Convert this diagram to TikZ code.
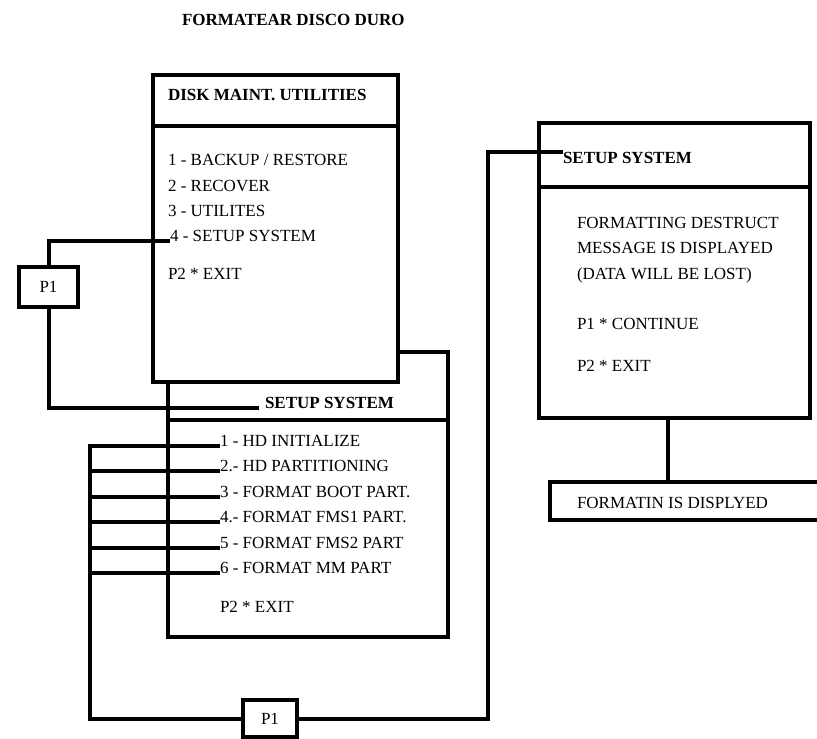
\documentclass[tikz,border=0pt]{standalone}
\usepackage{fontspec}
\setmainfont{Liberation Serif}
\begin{document}
\begin{tikzpicture}[x=1pt,y=-1pt,
  box/.style={draw, line width=4pt, inner sep=0pt, outer sep=0pt, fill=white},
  txt/.style={inner sep=0pt, outer sep=0pt, anchor=base west, font=\fontsize{17}{20}\selectfont},
  hdr/.style={txt, font=\fontsize{17}{20}\selectfont\bfseries},
  ctr/.style={inner sep=0pt, font=\fontsize{17}{20}\selectfont},
  wire/.style={draw, line width=4pt, line join=miter}]
\useasboundingbox (0,0) rectangle (817,739);
\fill[white] (0,0) rectangle (817,739);
% title
\node[hdr] (title) at (182,25) {FORMATEAR DISCO DURO};
% box 2 (behind box 1)
\node[box, minimum width=280pt, minimum height=285pt] (b2) at (308,494.5) {};
\draw[line width=4pt] (b2.west |- 0,420) -- (b2.east |- 0,420);
% box 1
\node[box, minimum width=245pt, minimum height=307pt] (b1) at (275.5,228.5) {};
\draw[line width=4pt] (b1.west |- 0,126) -- (b1.east |- 0,126);
\node[hdr] (h1) at (168,100) {DISK MAINT. UTILITIES};
\node[txt] (t1) at (168,165) {1 - BACKUP / RESTORE};
\node[txt] (t2) at (168,191) {2 - RECOVER};
\node[txt] (t3) at (168,216) {3 - UTILITES};
\node[txt] (t4) at (170,241) {4 - SETUP SYSTEM};
\node[txt] (t5) at (168,279) {P2 * EXIT};
% box 2 texts
\node[hdr] (h2) at (265,408) {SETUP SYSTEM};
\node[txt] (s1) at (220,446) {1 - HD INITIALIZE};
\node[txt] (s2) at (220,471) {2.- HD PARTITIONING};
\node[txt] (s3) at (220,497) {3 - FORMAT BOOT PART.};
\node[txt] (s4) at (220,522) {4.- FORMAT FMS1 PART.};
\node[txt] (s5) at (220,548) {5 - FORMAT FMS2 PART};
\node[txt] (s6) at (220,573) {6 - FORMAT MM PART};
\node[txt] (s7) at (220,612) {P2 * EXIT};
% box 3
\node[box, minimum width=271pt, minimum height=295pt] (b3) at (674.5,270.5) {};
\draw[line width=4pt] (b3.west |- 0,187) -- (b3.east |- 0,187);
\node[hdr] (h3) at (563,163) {SETUP SYSTEM};
\node[txt] (r1) at (577,228) {FORMATTING DESTRUCT};
\node[txt] (r2) at (577,253) {MESSAGE IS DISPLAYED};
\node[txt] (r3) at (577,279) {(DATA WILL BE LOST)};
\node[txt] (r4) at (577,329) {P1 * CONTINUE};
\node[txt] (r5) at (577,371) {P2 * EXIT};
% box 4 (runs off the right edge)
\begin{scope}
\clip (0,0) rectangle (817,739);
\node[box, minimum width=290pt, minimum height=38pt] (b4) at (695,501) {};
\end{scope}
\node[txt] (f1) at (577,508) {FORMATIN IS DISPLYED};
% P1 boxes
\node[box, minimum width=59pt, minimum height=40pt, font=\fontsize{17}{20}\selectfont] (p1a) at (48.5,287) {P1};
\node[box, minimum width=54pt, minimum height=37pt, font=\fontsize{17}{20}\selectfont] (p1b) at (270,718.5) {P1};
% connectors
\coordinate (busL) at (90,718.5);
\coordinate (rv) at (488,0);
\coordinate (c34) at (668,0);
\coordinate (h2in) at ([xshift=-6pt]h2.base west);
\coordinate (h3top) at ([yshift=11pt]h3.base west);
\draw[wire] (p1a.north) |- (t4.base west);
\draw[wire] (p1a.south) |- (h2in);
\draw[wire] (s1.base west) -- (s1.base west -| busL) -- (busL) -- (p1b.west);
\draw[wire] (s2.base west) -- (s2.base west -| busL);
\draw[wire] (s3.base west) -- (s3.base west -| busL);
\draw[wire] (s4.base west) -- (s4.base west -| busL);
\draw[wire] (s5.base west) -- (s5.base west -| busL);
\draw[wire] (s6.base west) -- (s6.base west -| busL);
\draw[wire] (p1b.east) -- (p1b.east -| rv) -- (rv |- h3top) -- (h3top);
\draw[wire] (b3.south -| c34) -- (b4.north -| c34);
\end{tikzpicture}
\end{document}
